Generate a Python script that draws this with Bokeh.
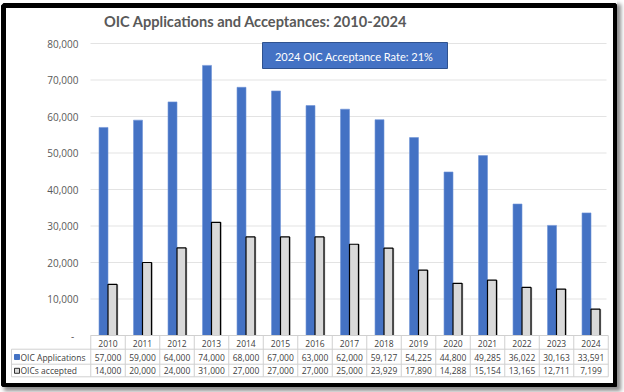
from bokeh.plotting import figure
from bokeh.models import Range1d, ColumnDataSource
from bokeh.transform import dodge
from bokeh.core.properties import value
from bokeh.embed import file_html
from bokeh.resources import INLINE

# ---------------- data ----------------
years = [2010, 2011, 2012, 2013, 2014, 2015, 2016, 2017, 2018, 2019, 2020, 2021, 2022, 2023, 2024]
year_labels = ["2010", "2011", "2012", "2013", "2014", "2015", "2016", "2017", "2018", "2019",
               "2020", "2021", "2022", "2023", "2024"]
applications = [57000, 59000, 64000, 74000, 68000, 67000, 63000, 62000, 59127, 54225,
                44800, 49285, 36022, 30163, 33591]
accepted = [14000, 20000, 24000, 31000, 27000, 27000, 27000, 25000, 23929, 17890,
            14288, 15154, 13165, 12711, 7199]
series_names = ["OIC Applications", "OICs accepted"]
y_ticks = [0, 10000, 20000, 30000, 40000, 50000, 60000, 70000, 80000]
y_tick_labels = ["-", "10,000", "20,000", "30,000", "40,000", "50,000", "60,000", "70,000", "80,000"]
title_text = "OIC Applications and Acceptances:  2010-2024"
note_text = "2024 OIC Acceptance Rate:  21%"

# ---------------- layout helpers (pixel -> data) ----------------
X0PX, XSTEP = 107.5, 34.5
Y0PX, YSCALE = 335.0, 292.0 / 80000.0
W, H = 617, 387
FL, FR, FT, FB = 3, 615, 5, 385


def X(px):
    return years[0] + (px - X0PX) / XSTEP


def Y(py):
    return (Y0PX - py) / YSCALE


BLUE = "#4472C4"
GRAY = "#D9D9D9"
LINE = "#D0D0D0"
TXT = "#404040"
AX = "#595959"

p = figure(width=W, height=H, output_backend="svg", toolbar_location=None,
           x_range=Range1d(X(FL), X(FR)), y_range=Range1d(Y(FB), Y(FT)),
           x_axis_location=None, y_axis_location=None, title=None,
           min_border_left=FL, min_border_right=W - FR, min_border_top=FT,
           min_border_bottom=H - FB)
p.grid.visible = False
p.background_fill_color = "white"
p.border_fill_color = "white"
p.outline_line_color = "black"
p.outline_line_width = 5
p.styles = {"box-shadow": "4px 4px 4px rgba(0,0,0,0.45)"}

src = ColumnDataSource(dict(
    year=years, label=year_labels, apps=applications, acc=accepted,
    apps_txt=["{:,}".format(v) for v in applications],
    acc_txt=["{:,}".format(v) for v in accepted],
))

# gridlines
p.segment(x0=X(90), x1=X(606), y0=y_ticks[1:], y1=y_ticks[1:], line_color="#E3E3E3", line_width=1)

# y labels
p.text(x=X(78), y=y_ticks[1:], text=y_tick_labels[1:], text_align="right", text_baseline="middle",
       text_font=value("Open Sans"), text_font_size="10px", text_color=AX)
p.text(x=X(72), y=y_ticks[0], text=[y_tick_labels[0]], text_align="center", text_baseline="middle",
       text_font=value("Open Sans"), text_font_size="10px", text_color=AX)

# bars
p.vbar(x=dodge("year", -0.13), top="apps", bottom=0, width=0.26, source=src,
       fill_color=BLUE, line_color="#6F93D6", line_width=0.6)
p.vbar(x=dodge("year", 0.165), top="acc", bottom=0, width=0.26, source=src,
       fill_color="#A6A6A6", line_color=None)
p.vbar(x=dodge("year", 0.13), top="acc", bottom=0, width=0.26, source=src,
       fill_color=GRAY, line_color="black", line_width=1.2)

# annotation box
p.quad(left=X(262), right=X(447), top=Y(42), bottom=Y(68), fill_color=BLUE, line_color="#2F528F", line_width=1)
p.text(x=X(355), y=Y(55.5), text=[note_text], text_align="center", text_baseline="middle",
       text_font=value("Lato"), text_font_size="11px", text_color="white")

# title
p.text(x=X(257), y=Y(21), text=[title_text], text_align="center", text_baseline="middle",
       text_font=value("Lato"), text_font_style="bold", text_font_size="14.6px", text_color=AX)

# data table lines
bounds = [y - 0.5 for y in years] + [years[-1] + 0.5]
p.segment(x0=X(90), x1=bounds[-1], y0=0, y1=0, line_color=LINE, line_width=1)
for py in (348.7, 363.7, 376.3):
    p.segment(x0=X(11), x1=bounds[-1], y0=Y(py), y1=Y(py), line_color=LINE, line_width=1)
p.segment(x0=bounds, x1=bounds, y0=0, y1=Y(376.3), line_color=LINE, line_width=1)
p.segment(x0=X(11), x1=X(11), y0=Y(348.7), y1=Y(376.3), line_color=LINE, line_width=1)

# data table texts
p.text(x="year", y=Y(342.5), text="label", source=src, text_align="center", text_baseline="middle",
       text_font=value("Open Sans"), text_font_size="8.5px", text_color=TXT)
p.text(x="year", y=Y(356.5), text="apps_txt", source=src, text_align="center", text_baseline="middle",
       text_font=value("Open Sans"), text_font_size="8.5px", text_color=TXT)
p.text(x="year", y=Y(370.3), text="acc_txt", source=src, text_align="center", text_baseline="middle",
       text_font=value("Open Sans"), text_font_size="8.5px", text_color=TXT)

# header column with legend keys
p.scatter(x=X(16.5), y=Y(356.5), marker="square", size=5, fill_color=BLUE, line_color=BLUE)
p.scatter(x=X(16.5), y=Y(370.3), marker="square", size=5, fill_color=GRAY, line_color="black", line_width=0.8)
p.text(x=X(20), y=[Y(356.5), Y(370.3)], text=series_names, text_align="left", text_baseline="middle",
       text_font=value("Open Sans"), text_font_size="8.5px", text_color=TXT)

open("out.html", "w").write(file_html(p, INLINE))
